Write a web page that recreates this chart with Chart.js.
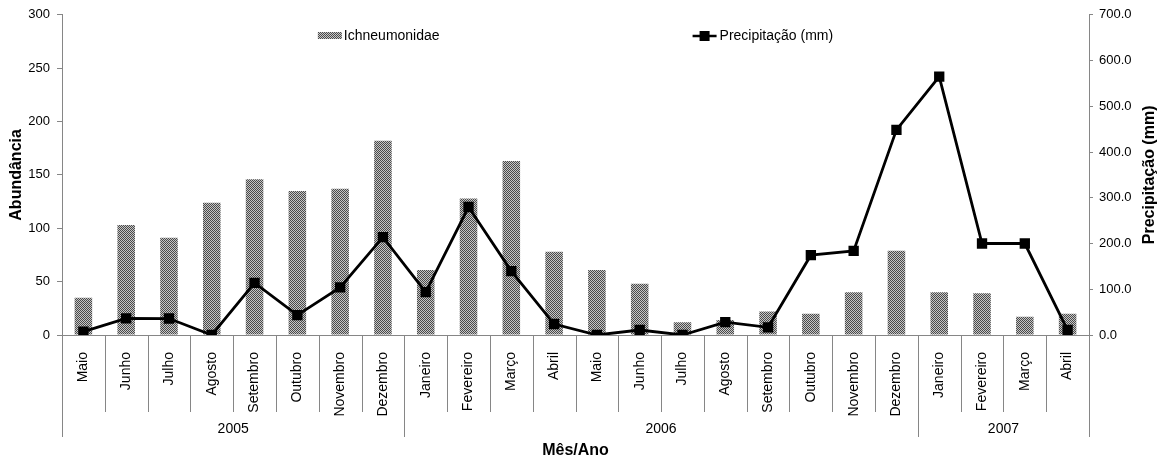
<!DOCTYPE html>
<html>
<head>
<meta charset="utf-8">
<script src="https://cdn.jsdelivr.net/npm/chart.js@4/dist/chart.umd.min.js"></script>
<style>html,body{margin:0;padding:0;background:#fff}</style>
</head>
<body>
<canvas id="c" width="1163" height="463"></canvas>
<script>
const meses = ["Maio","Junho","Julho","Agosto","Setembro","Outubro","Novembro","Dezembro",
  "Janeiro","Fevereiro","Março","Abril","Maio","Junho","Julho","Agosto","Setembro","Outubro","Novembro","Dezembro",
  "Janeiro","Fevereiro","Março","Abril"];
const anos = ["2005", "2006", "2007"];
const mesesPorAno = [8, 12, 4];
const ichneumonidae = [35, 103, 91, 124, 146, 135, 137, 182, 61, 128, 163, 78, 61, 48, 12, 14, 22, 20, 40, 79, 40, 39, 17, 20];
const precipitacao = [7.2, 36.4, 36.0, 0.0, 114.0, 43.6, 104.0, 214.0, 93.8, 279.8, 139.6, 24.0, 0.0, 10.9, 0.0, 28.3, 16.8, 174.5, 183.8, 448.5, 564.8, 200.0, 200.0, 10.9];

const cinzaEixo = "#868686";
const fonte = "'Liberation Sans', Arial, sans-serif";
Chart.defaults.color = "#000";
Chart.defaults.font.family = fonte;

const canvas = document.getElementById("c");
function hachura() {
  const p = document.createElement("canvas");
  p.width = 2; p.height = 2;
  const g = p.getContext("2d");
  g.fillStyle = "#c6c6c6"; g.fillRect(0, 0, 2, 2);
  g.fillStyle = "#4a4a4a"; g.fillRect(0, 0, 1, 1); g.fillRect(1, 1, 1, 1);
  return canvas.getContext("2d").createPattern(p, "repeat");
}
const padrao = hachura();

// separators, year row, legend and right title
const eixoCategorias = {
  id: "eixoCategorias",
  afterDraw(chart) {
    const { ctx, chartArea: a, scales: { x } } = chart;
    const meio = (x.getPixelForValue(1) - x.getPixelForValue(0)) / 2;
    const limites = [0];
    mesesPorAno.forEach(n => limites.push(limites[limites.length - 1] + n));
    ctx.save();
    ctx.strokeStyle = cinzaEixo;
    ctx.lineWidth = 1;
    for (let i = 0; i <= meses.length; i++) {
      const px = Math.round(x.getPixelForValue(i) - meio) + 0.5;
      const fim = limites.includes(i) ? a.bottom + 102 : a.bottom + 77;
      ctx.beginPath();
      ctx.moveTo(px, a.bottom);
      ctx.lineTo(px, fim);
      ctx.stroke();
    }
    ctx.fillStyle = "#000";
    ctx.font = "14px " + fonte;
    ctx.textAlign = "center";
    ctx.textBaseline = "middle";
    anos.forEach((ano, k) => {
      const x0 = x.getPixelForValue(limites[k]) - meio;
      const x1 = x.getPixelForValue(limites[k + 1]) - meio;
      ctx.fillText(ano, (x0 + x1) / 2, a.bottom + 94);
    });

    // legend
    const dsBar = chart.data.datasets[1], dsLine = chart.data.datasets[0];
    const w1 = ctx.measureText(dsBar.label).width;
    const w2 = ctx.measureText(dsLine.label).width;
    const gap = 253;
    const total = 26 + w1 + gap + 27 + w2;
    let lx = (a.left + a.right) / 2 - total / 2;
    const ly = 36;
    ctx.textAlign = "left";
    ctx.fillStyle = padrao;
    ctx.fillRect(lx, ly - 4, 24, 7);
    ctx.fillStyle = "#000";
    ctx.fillText(dsBar.label, lx + 26, ly);
    lx += 26 + w1 + gap;
    ctx.strokeStyle = "#000";
    ctx.lineWidth = 2.5;
    ctx.beginPath();
    ctx.moveTo(lx, ly); ctx.lineTo(lx + 24, ly);
    ctx.stroke();
    ctx.fillRect(lx + 12 - 5, ly - 5, 10, 10);
    ctx.fillText(dsLine.label, lx + 27, ly);

    // right axis title
    ctx.font = "bold 16px " + fonte;
    ctx.textAlign = "center";
    ctx.translate(1150, (a.top + a.bottom) / 2);
    ctx.rotate(-Math.PI / 2);
    ctx.fillText("Precipitação (mm)", 0, 0);
    ctx.restore();
  }
};

new Chart(canvas, {
  type: "bar",
  data: {
    labels: meses,
    datasets: [
      {
        type: "line",
        label: "Precipitação (mm)",
        data: precipitacao,
        yAxisID: "y2",
        borderColor: "#000",
        backgroundColor: "#000",
        borderWidth: 2.8,
        pointStyle: "rect",
        pointRadius: 7.3,
        pointBorderWidth: 0,
        tension: 0,
        order: 0
      },
      {
        label: "Ichneumonidae",
        data: ichneumonidae,
        yAxisID: "y",
        backgroundColor: padrao,
        borderWidth: 0,
        barPercentage: 0.41,
        categoryPercentage: 1,
        order: 1
      }
    ]
  },
  options: {
    responsive: false,
    animation: false,
    layout: { padding: { top: 14, left: 0, right: 0, bottom: 0 } },
    plugins: { legend: { display: false }, tooltip: { enabled: false } },
    scales: {
      x: {
        grid: { display: false },
        border: { display: true, color: cinzaEixo },
        ticks: { autoSkip: false, minRotation: 90, maxRotation: 90, padding: 9, font: { size: 14 } },
        title: { display: true, text: "Mês/Ano", font: { size: 16, weight: "bold" }, padding: { top: 0, bottom: 3 } },
        afterFit(s) { s.height = 128; }
      },
      y: {
        position: "left",
        min: 0, max: 300,
        ticks: { stepSize: 50, padding: 7, font: { size: 13 } },
        grid: { drawOnChartArea: false, tickLength: 5, color: cinzaEixo },
        border: { display: true, color: cinzaEixo },
        title: { display: true, text: "Abundância", font: { size: 16, weight: "bold" }, padding: { top: 7, bottom: 0 } },
        afterFit(s) { s.width = 62; }
      },
      y2: {
        position: "right",
        min: 0, max: 700,
        ticks: { stepSize: 100, padding: 6, font: { size: 13 }, callback: v => v.toFixed(1) },
        grid: { drawOnChartArea: false, tickLength: 4, color: cinzaEixo },
        border: { display: true, color: cinzaEixo },
        afterFit(s) { s.width = 74; }
      }
    }
  },
  plugins: [eixoCategorias]
});
</script>
</body>
</html>
